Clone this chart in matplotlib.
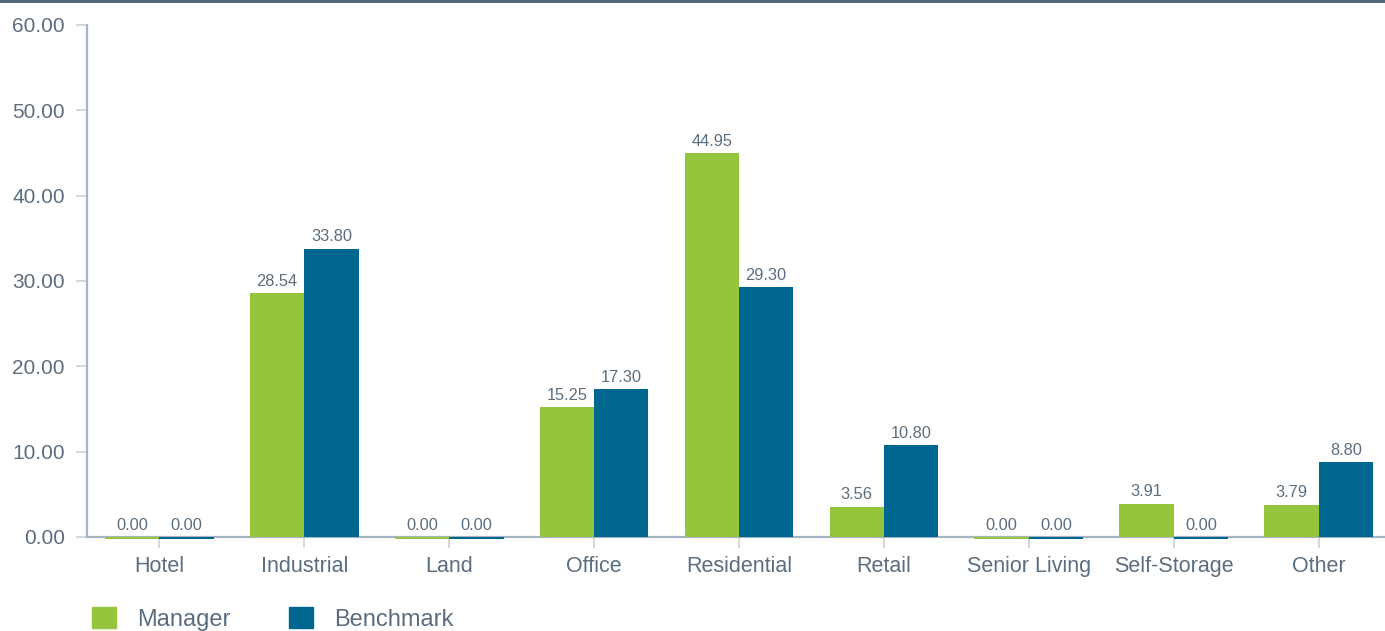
import matplotlib
matplotlib.use("Agg")
import matplotlib.pyplot as plt
import numpy as np
from matplotlib.patches import Rectangle

categories = ["Hotel", "Industrial", "Land", "Office", "Residential",
              "Retail", "Senior Living", "Self-Storage", "Other"]
manager = [0.00, 28.54, 0.00, 15.25, 44.95, 3.56, 0.00, 3.91, 3.79]
benchmark = [0.00, 33.80, 0.00, 17.30, 29.30, 10.80, 0.00, 0.00, 8.80]
y_ticks = [0, 10, 20, 30, 40, 50, 60]

GREEN = "#95c43d"
BLUE = "#006890"
TEXT = "#5b6e7f"

plt.rcParams["font.family"] = ["Liberation Sans", "DejaVu Sans"]

fig = plt.figure(figsize=(13.85, 6.31), dpi=100)
ax = fig.add_axes([87 / 1385, 94 / 631, 1304 / 1385, (537 - 25) / 631])

x = np.arange(len(categories))
w = 0.375
zero_h = 0.25


def heights(vals):
    return [v if v > 0 else zero_h for v in vals]


def bottoms(vals):
    return [0 if v > 0 else -zero_h for v in vals]


ax.bar(x - w / 2, heights(manager), w, bottom=bottoms(manager), color=GREEN, clip_on=False, zorder=3)
ax.bar(x + w / 2, heights(benchmark), w, bottom=bottoms(benchmark), color=BLUE, clip_on=False, zorder=3)

for xs, vals in ((x - w / 2, manager), (x + w / 2, benchmark)):
    for xi, v in zip(xs, vals):
        ax.annotate(f"{v:.2f}", (xi, v), xytext=(0, 3), textcoords="offset points",
                    ha="center", va="bottom", fontsize=11.8, color=TEXT)

ax.set_xlim(-0.5, len(categories) - 0.5)
ax.set_ylim(0, 60)
ax.set_yticks(y_ticks)
ax.set_yticklabels([f"{t:.2f}" for t in y_ticks])
ax.set_xticks(x)
ax.set_xticklabels(categories)

for s in ("top", "right"):
    ax.spines[s].set_visible(False)
for s in ("left", "bottom"):
    ax.spines[s].set_color("#a7b4c1")
    ax.spines[s].set_linewidth(1.6)
    ax.spines[s].set_zorder(2)
ax.tick_params(axis="y", length=8, width=1.4, color="#d6d6d6", labelsize=15,
               labelcolor=TEXT, pad=8)
ax.tick_params(axis="x", length=8, width=1.4, color="#d6d6d6", labelsize=15.5,
               labelcolor=TEXT, pad=6)

# top border
fig.add_artist(Rectangle((0, 1 - 3 / 631), 1, 3 / 631, transform=fig.transFigure,
                         color="#536878", lw=0))

handles = [Rectangle((0, 0), 1, 1, color=GREEN), Rectangle((0, 0), 1, 1, color=BLUE)]
fig.legend(handles, ["Manager", "Benchmark"], loc="upper left",
           bbox_to_anchor=(92 / 1385, 1 - 607 / 631), ncol=2, frameon=False,
           fontsize=17, labelcolor=TEXT, handlelength=1.0, handleheight=1.0,
           handletextpad=0.9, columnspacing=2.5, borderpad=0, borderaxespad=0)

fig.savefig("out.png", dpi=100)
